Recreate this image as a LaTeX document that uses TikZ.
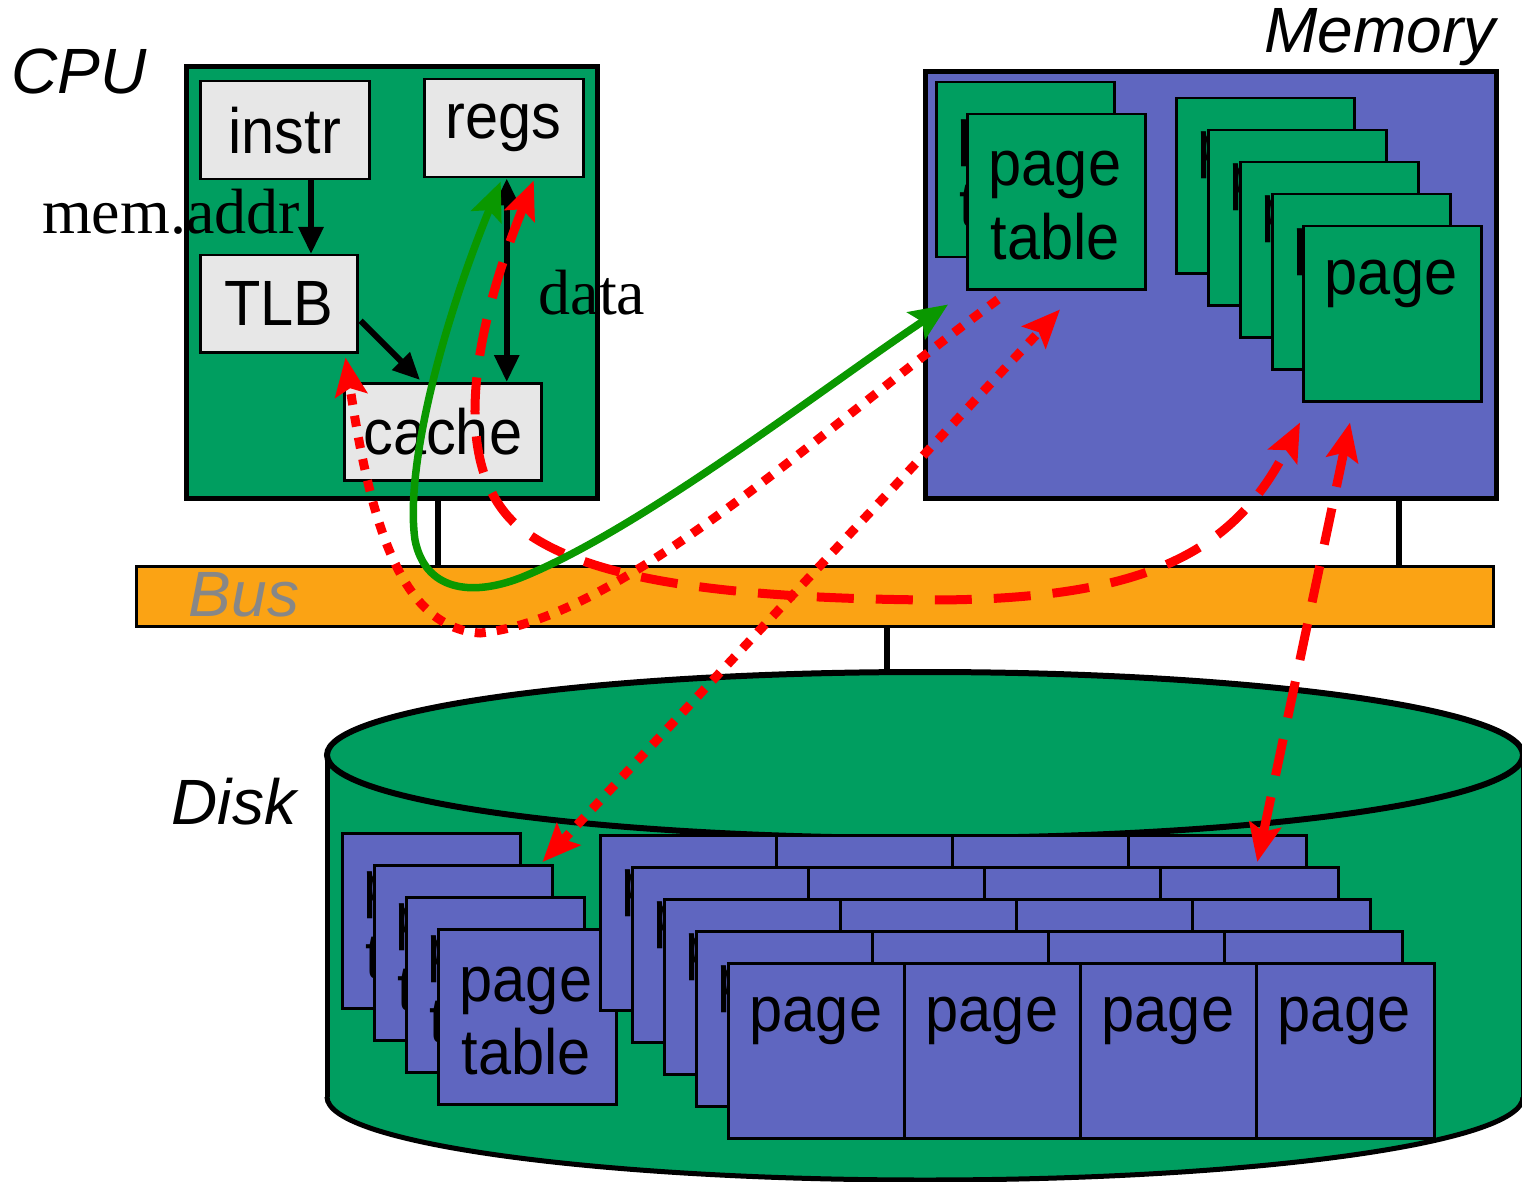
\documentclass[tikz,border=0pt]{standalone}
\usepackage{fontspec}
\setmainfont{Liberation Serif}
\setsansfont{Liberation Sans}
\newfontfamily\nar{Liberation Sans}[FakeStretch=0.93]
\usetikzlibrary{arrows.meta,calc,shapes.geometric}
\definecolor{cpugreen}{RGB}{0,158,96}
\definecolor{memblue}{RGB}{95,102,192}
\definecolor{lgray}{RGB}{231,231,231}
\definecolor{busorange}{RGB}{251,163,20}
\definecolor{agreen}{RGB}{10,152,0}
\definecolor{buslab}{RGB}{135,135,135}
\newcommand\boxfont{\nar\fontsize{64}{75}\selectfont}
\tikzset{
  rtip/.tip={Stealth[length=38pt,width=32pt,inset=7pt]},
  btip/.tip={Triangle[length=27pt,width=24pt]},
  box/.style={draw, line width=2.5pt, fill=lgray, font=\boxfont, inner sep=0pt, anchor=north west},
  pgb/.style={draw, line width=2.5pt, inner sep=0pt, anchor=north west, minimum width=178pt, minimum height=175pt},
  pgtxt/.style={font=\boxfont, inner sep=0pt, anchor=base},
  lab/.style={font=\sffamily\itshape\fontsize{64}{70}\selectfont, inner sep=0pt},
  serlab/.style={font=\fontsize{64}{70}\selectfont, inner sep=0pt},
  blk/.style={line width=6pt, -btip},
  stem/.style={line width=6pt},
  rdot/.style={red, line width=9pt, dash pattern=on 11pt off 11pt},
  rdash/.style={red, line width=9pt, dash pattern=on 37pt off 22pt},
  garrow/.style={agreen, line width=7.5pt, rtip-rtip},
}
\newcommand\pgbox[4]{% name, x, y, fill
  \node[pgb, fill=#4] (#1) at (#2,#3) {};
  \node[pgtxt] at ($(#1.north west)+(89,69)$) {page};}
\newcommand\ptbox[4]{% name, x, y, fill
  \node[pgb, fill=#4] (#1) at (#2,#3) {};
  \node[pgtxt] at ($(#1.north west)+(89,73)$) {page};
  \node[pgtxt] at ($(#1.north west)+(89,146)$) {table};}
\begin{document}
\begin{tikzpicture}[x=1pt,y=-1pt]
\useasboundingbox (0,0) rectangle (1522,1182);

% ---------- Disk cylinder ----------
\fill[cpugreen] (327,755) rectangle (1523,1097);
\fill[cpugreen] (925,1097) ellipse [x radius=598pt, y radius=83pt];
\begin{scope}
  \clip (300,1097) rectangle (1540,1200);
  \draw[line width=5pt] (925,1097) ellipse [x radius=598pt, y radius=83pt];
\end{scope}
\draw[line width=5pt] (327,755) -- (327,1097);
\draw[line width=5pt] (1523,755) -- (1523,1097);
\node[draw, line width=6pt, fill=cpugreen, ellipse, inner sep=0pt,
      minimum width=1196pt, minimum height=166pt] (disktop) at (925,755) {};

% disk page tables
\ptbox{dpt0}{341}{832}{memblue}
\ptbox{dpt1}{373}{864}{memblue}
\ptbox{dpt2}{405}{896}{memblue}
\ptbox{dpt3}{437}{928}{memblue}
% disk pages
\foreach \r in {0,...,4}{
  \foreach \c in {0,...,3}{
    \pgbox{dp\r\c}{599+32*\r+176*\c}{834+32*\r}{memblue}
  }
}

% ---------- Bus ----------
\node[draw, line width=2.5pt, fill=busorange, anchor=north west, inner sep=0pt,
      minimum width=1357pt, minimum height=60pt] (bus) at (135,565) {};
\node[lab, text=buslab] (buslabel) at (244,595) {Bus};

% ---------- CPU ----------
\node[draw, line width=5pt, fill=cpugreen, anchor=north west, inner sep=0pt,
      minimum width=411pt, minimum height=432pt] (cpu) at (184,64) {};
\node[box, minimum width=169pt, minimum height=98pt] (instr) at (199,80) {instr};
\node[box, minimum width=159pt, minimum height=98pt] (regs) at (423,78) {regs};
\node[box, minimum width=157pt, minimum height=97pt] (tlb) at (199,254) {TLB};
\node[box, minimum width=197pt, minimum height=97pt] (cache) at (343,382) {cache};
\node[lab] (cpulabel) at (79,71) {CPU};

% ---------- Memory ----------
\node[draw, line width=5pt, fill=memblue, anchor=north west, inner sep=0pt,
      minimum width=571pt, minimum height=427pt] (mem) at (923,69) {};
\node[lab] (memlabel) at (1380,37) {Memory};
\ptbox{mpt0}{935}{81}{cpugreen}
\ptbox{mpt1}{966}{113}{cpugreen}
\pgbox{mp0}{1175}{97}{cpugreen}
\pgbox{mp1}{1207}{129}{cpugreen}
\pgbox{mp2}{1239}{161}{cpugreen}
\pgbox{mp3}{1271}{193}{cpugreen}
\pgbox{mp4}{1302}{225}{cpugreen}

\node[lab] (disklabel) at (234,802) {Disk};

% ---------- bus stems ----------
\draw[stem] ($(cpu.south west)+(254,0)$) coordinate (s1) -- (s1 |- bus.north);
\draw[stem] ($(mem.south west)+(476,0)$) coordinate (s2) -- (s2 |- bus.north);
\draw[stem] ($(bus.south west)+(752,0)$) coordinate (s3) -- (s3 |- disktop.north);

% ---------- black arrows ----------
\draw[blk] ($(instr.south west)+(112,0)$) coordinate (ia) -- (ia |- tlb.north);
\draw[blk] ($(tlb.east)+(2,17)$) -- ($(cache.north west)+(77,-2)$);
\draw[line width=6pt, btip-btip] ($(regs.south)+(3,0)$) coordinate (ra) -- (ra |- cache.north);

\node[serlab] (memaddr) at (171,212) {mem.addr};
\node[serlab] (datalab) at (592,293) {data};

% ---------- coloured paths ----------
\coordinate (gA) at ($(mpt1.south west)+(-18,14)$);
\coordinate (gB) at ($(regs.south)+(-3,3)$);
\coordinate (rA) at ($(regs.south)+(30,2)$);
\coordinate (rB) at ($(mp4.south west)+(-2,20)$);
\coordinate (rC) at ($(mp4.south west)+(48,20)$);
\coordinate (rD) at ($(dp13.north)+(8,-4)$);
\coordinate (dA) at ($(mpt1.south west)+(32,9)$);
\coordinate (dB) at ($(tlb.south east)+(-13,4)$);
\coordinate (dC) at ($(dpt1.north east)+(-11,-2)$);
\coordinate (dD) at ($(mpt1.south west)+(94,19)$);

\draw[rdot, -rtip] (dA) .. controls (820,430) and (620,620) .. (480,633)
      .. controls (400,628) and (370,520) .. (dB);
\draw[rdot, rtip-rtip] (dC) -- (dD);
\draw[rdash, rtip-rtip] (rA) .. controls (470,340) and (450,470) .. (520,528)
      .. controls (580,575) and (700,598) .. (930,600)
      .. controls (1150,600) and (1235,550) .. (rB);
\draw[rdash, rtip-rtip] (rC) -- (rD);
\draw[garrow] (gA) .. controls (820,390) and (640,530) .. (520,578)
      .. controls (470,597) and (425,590) .. (415,540)
      .. controls (405,470) and (440,330) .. (gB);
\end{tikzpicture}
\end{document}
